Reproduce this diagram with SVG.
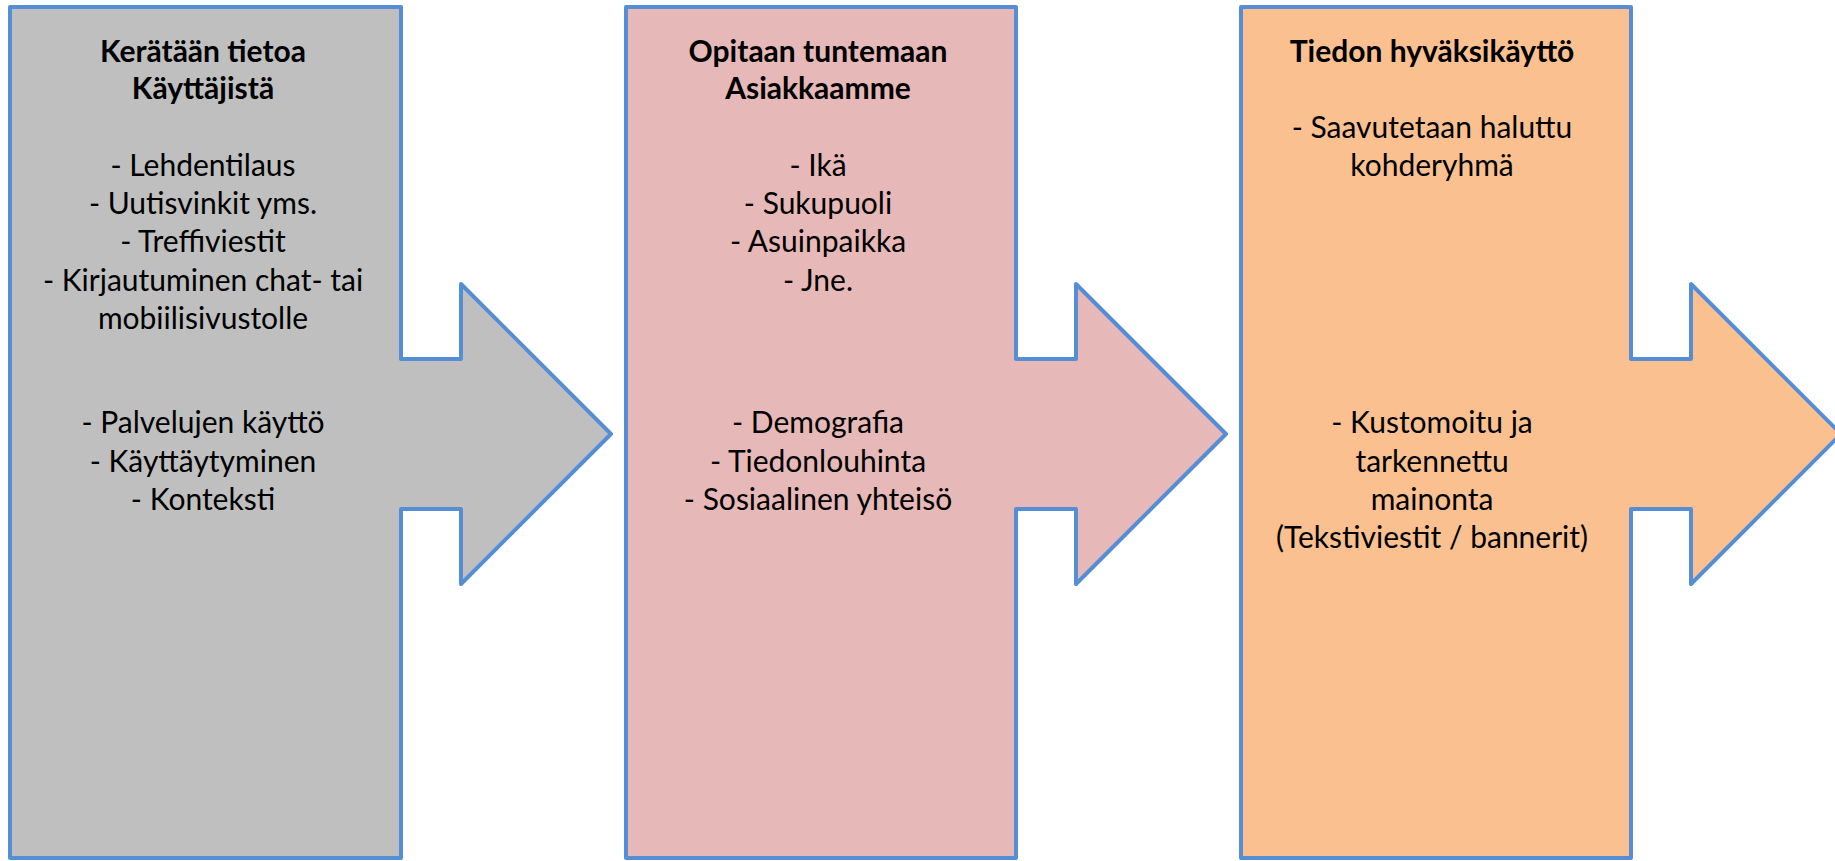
<svg xmlns="http://www.w3.org/2000/svg" width="1835" height="861" viewBox="0 0 1835 861">
<style>
.shape{stroke:#558ED5;stroke-width:4;stroke-linejoin:round}
.g{fill:#BFBFBF}.p{fill:#E6B8B7}.o{fill:#FAC090}
text{font-family:Lato,"Liberation Sans",sans-serif;font-size:30px;fill:#000;text-anchor:middle}
.t{font-weight:bold}
</style>
<rect width="1835" height="861" fill="#fff"/>
<g id="node1">
<path class="shape g" d="M10,7 H401 V359 H461 V284 L611,434 L461,584 V509 H401 V858 H10 Z"/>
<text class="t" x="203" y="62">Kerätään tietoa</text>
<text class="t" x="203" y="99">Käyttäjistä</text>
<text x="203" y="176">- Lehdentilaus</text>
<text x="203" y="214">- Uutisvinkit yms.</text>
<text x="203" y="252">- Treffiviestit</text>
<text x="203" y="291">- Kirjautuminen chat- tai</text>
<text x="203" y="329">mobiilisivustolle</text>
<text x="203" y="433">- Palvelujen käyttö</text>
<text x="203" y="472">- Käyttäytyminen</text>
<text x="203" y="510">- Konteksti</text>
</g>
<g id="node2">
<path class="shape p" d="M626,7 H1016 V359 H1076 V284 L1226,434 L1076,584 V509 H1016 V858 H626 Z"/>
<text class="t" x="818" y="62">Opitaan tuntemaan</text>
<text class="t" x="818" y="99">Asiakkaamme</text>
<text x="818" y="176">- Ikä</text>
<text x="818" y="214">- Sukupuoli</text>
<text x="818" y="252">- Asuinpaikka</text>
<text x="818" y="291">- Jne.</text>
<text x="818" y="433">- Demografia</text>
<text x="818" y="472">- Tiedonlouhinta</text>
<text x="818" y="510">- Sosiaalinen yhteisö</text>
</g>
<g id="node3">
<path class="shape o" d="M1241,7 H1631 V359 H1691 V284 L1841,434 L1691,584 V509 H1631 V858 H1241 Z"/>
<text class="t" x="1432" y="62">Tiedon hyväksikäyttö</text>
<text x="1432" y="138">- Saavutetaan haluttu</text>
<text x="1432" y="176">kohderyhmä</text>
<text x="1432" y="433">- Kustomoitu ja</text>
<text x="1432" y="472">tarkennettu</text>
<text x="1432" y="510">mainonta</text>
<text x="1432" y="548">(Tekstiviestit / bannerit)</text>
</g>
</svg>
